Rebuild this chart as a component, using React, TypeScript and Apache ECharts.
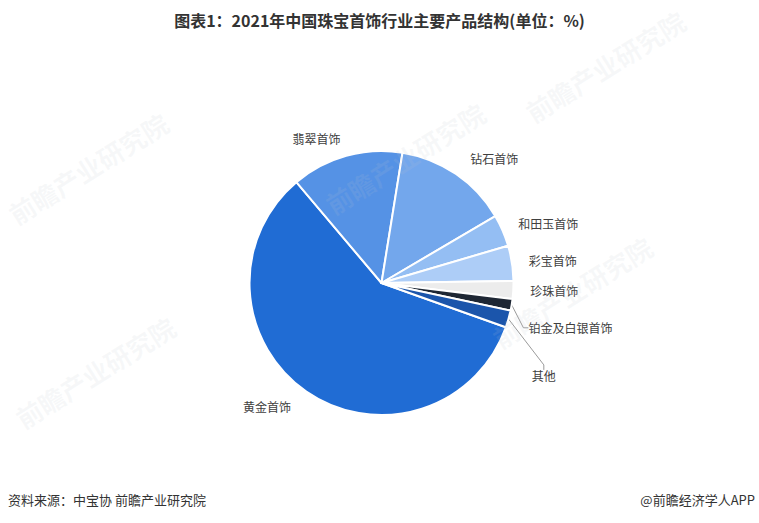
import React, { useEffect, useRef } from "react";
import * as echarts from "echarts";

const categories = ["黄金首饰", "翡翠首饰", "钻石首饰", "和田玉首饰", "彩宝首饰", "珍珠首饰", "铂金及白银首饰", "其他"];
const values = [58.4, 13.7, 14.0, 3.9, 4.3, 2.2, 1.4, 2.1];
const colors = ["#206cd4", "#5592e5", "#73a7ec", "#94bef3", "#adcdf7", "#ececec", "#1e2734", "#1b55ab"];
const labelDx = [0, 4, -1, -6, -6, -6, -11, -4];
const labelDy = [0, 0, -1, 0, 0, 0, 20, 52];
const titleText = "图表1：2021年中国珠宝首饰行业主要产品结构(单位：%)";
const sourceText = "资料来源：中宝协 前瞻产业研究院";
const brandText = "@前瞻经济学人APP";
const watermarkSpots = [
  [405, 158],
  [572, 292],
  [605, 66],
  [88, 168],
  [95, 372],
];

const FONT = "'Noto Sans CJK SC', 'Noto Sans', sans-serif";

export default function App() {
  const ref = useRef<HTMLDivElement>(null);
  useEffect(() => {
    if (!ref.current) return;
    const chart = echarts.init(ref.current, null, { renderer: "svg" });
    const data = categories.map((name, i) => {
      const item: any = { name, value: values[i], itemStyle: { color: colors[i] } };
      if (i >= 6) {
        item.labelLine = { show: true, length2: 5, lineStyle: { color: "#9a9a9a", width: 1 } };
      }
      return item;
    });
    const watermarks = watermarkSpots.map(([x, y]) => ({
      type: "text",
      x,
      y,
      rotation: (32 * Math.PI) / 180,
      z: 100,
      silent: true,
      style: {
        text: "前瞻产业研究院",
        fontSize: 26,
        fontWeight: "bold",
        fontFamily: FONT,
        fill: "rgba(190,195,205,0.12)",
        align: "center",
        verticalAlign: "middle",
      },
    }));
    chart.setOption({
      animation: false,
      backgroundColor: "#ffffff",
      title: {
        text: titleText,
        left: "center",
        top: 7,
        textStyle: { fontSize: 16, fontWeight: "bold", color: "#333333", fontFamily: FONT },
      },
      graphic: [
        ...watermarks,
        {
          type: "text",
          left: 8,
          top: 493,
          style: { text: sourceText, fontSize: 13, fill: "#333333", fontFamily: FONT },
        },
        {
          type: "text",
          right: 4,
          top: 493,
          style: { text: brandText, fontSize: 13, fill: "#333333", fontFamily: FONT },
        },
      ],
      series: [
        {
          type: "pie",
          center: [381.5, 283],
          radius: 132,
          startAngle: 340.4,
          clockwise: true,
          avoidLabelOverlap: false,
          itemStyle: { borderColor: "#ffffff", borderWidth: 2 },
          label: {
            show: true,
            position: "outside",
            color: "#404040",
            fontSize: 12,
            fontFamily: FONT,
            formatter: "{b}",
          },
          labelLine: { show: false, length: 18, length2: 0 },
          emphasis: { disabled: true },
          labelLayout: (params: any) => {
            const i = params.dataIndex;
            const dx = labelDx[i] || 0;
            const dy = labelDy[i] || 0;
            if (!dx && !dy) return {};
            const r = params.labelRect;
            const baseX = params.align === "right" ? r.x + r.width : r.x;
            return { x: baseX + dx, y: r.y + r.height / 2 + dy };
          },
          data,
        },
      ],
    });
    return () => chart.dispose();
  }, []);
  return <div ref={ref} style={{ position: "absolute", left: 0, top: 0, width: 759, height: 523 }} />;
}
